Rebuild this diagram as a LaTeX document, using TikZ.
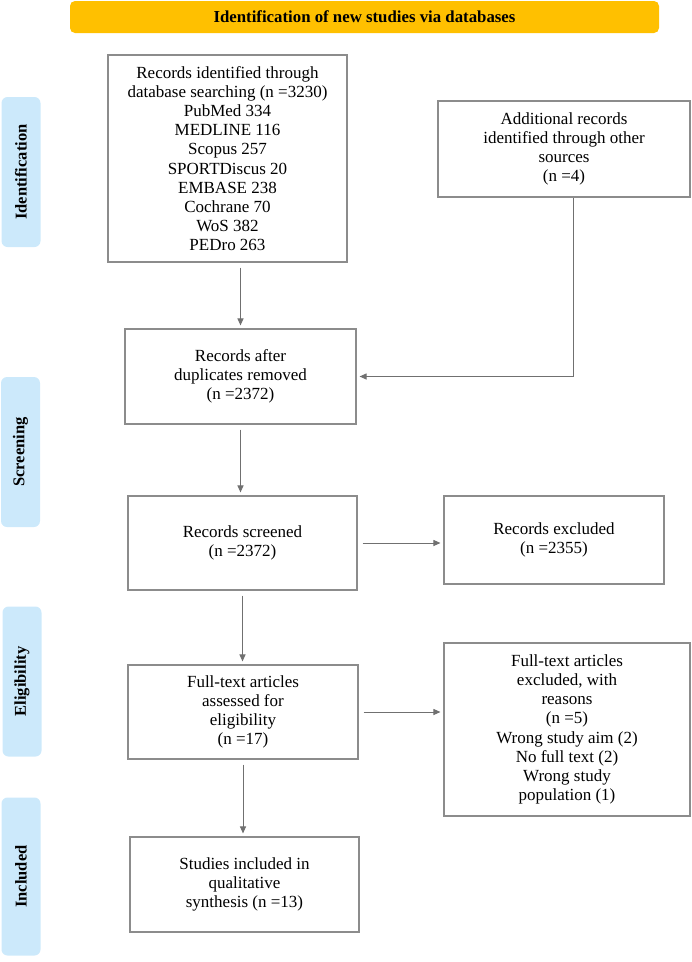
\documentclass[tikz,border=0pt]{standalone}
\usepackage{fontspec}
\setmainfont{Liberation Serif}
\usepackage{xcolor}
\usetikzlibrary{arrows.meta}
\definecolor{headyellow}{RGB}{255,192,0}
\definecolor{stageblue}{RGB}{204,233,251}
\definecolor{boxgray}{RGB}{140,140,140}
\definecolor{arrowgray}{RGB}{112,112,112}

\begin{document}
\begin{tikzpicture}[x=1pt,y=-1pt,box/.style={draw=boxgray,line width=1.1pt,align=center,inner sep=2pt,font=\fontsize{17}{19.2}\selectfont},head/.style={fill=headyellow,rounded corners=5pt,minimum width=589pt,minimum height=32pt,font=\fontsize{16.8}{19}\selectfont\bfseries},stage/.style={fill=stageblue,rounded corners=6pt,rotate=90,minimum width=150pt,minimum height=39pt,font=\fontsize{16.5}{19}\selectfont\bfseries},flow/.style={draw=arrowgray,line width=1pt,-{Triangle[length=7pt,width=6pt]},shorten <=5pt,shorten >=3pt}]
\useasboundingbox (0,0) rectangle (692,962);
\node[head] (title) at (364.5,17) {Identification of new studies via databases};
\node[stage] (sid) at (21,172) {Identification};
\node[stage] (sscr) at (20.5,452) {Screening};
\node[stage] (selig) at (22,681.5) {Eligibility};
\node[stage,minimum width=158pt] (sinc) at (21,876.5) {Included};
\node[box,minimum width=239pt,minimum height=207pt] (ident) at (227.5,158.5) {Records identified through\\database searching (n =3230)\\PubMed 334\\MEDLINE 116\\Scopus 257\\SPORTDiscus 20\\EMBASE 238\\Cochrane 70\\WoS 382\\PEDro 263};
\node[box,minimum width=252pt,minimum height=96pt] (other) at (564,149) {Additional records\\identified through other\\sources\\(n =4)};
\node[box,minimum width=231pt,minimum height=95pt] (dup) at (240.5,376.5) {Records after\\duplicates removed\\(n =2372)};
\node[box,minimum width=229pt,minimum height=94pt] (screen) at (242.5,543) {Records screened\\(n =2372)};
\node[box,minimum width=220pt,minimum height=88pt] (excl) at (554,540) {Records excluded\\(n =2355)};
\node[box,minimum width=230pt,minimum height=94pt] (full) at (243,712) {Full-text articles\\assessed for\\eligibility\\(n =17)};
\node[box,minimum width=246pt,minimum height=173pt] (fexcl) at (567,729.5) {Full-text articles\\excluded, with\\reasons\\(n =5)\\Wrong study aim (2)\\No full text (2)\\Wrong study\\population (1)};
\node[box,minimum width=229pt,minimum height=95pt] (incl) at (244.5,884.5) {Studies included in\\qualitative\\synthesis (n =13)};
\draw[flow] (ident.south -| dup.north) -- (dup.north);
\draw[flow,shorten <=0pt] ([xshift=9pt]other.south) |- (dup.east);
\draw[flow] (dup.south) -- (dup.south |- screen.north);
\draw[flow] (screen.east) -- (screen.east -| excl.west);
\draw[flow] (screen.south) -- (screen.south |- full.north);
\draw[flow] (full.east) -- (full.east -| fexcl.west);
\draw[flow] (full.south) -- (full.south |- incl.north);
\end{tikzpicture}
\end{document}
